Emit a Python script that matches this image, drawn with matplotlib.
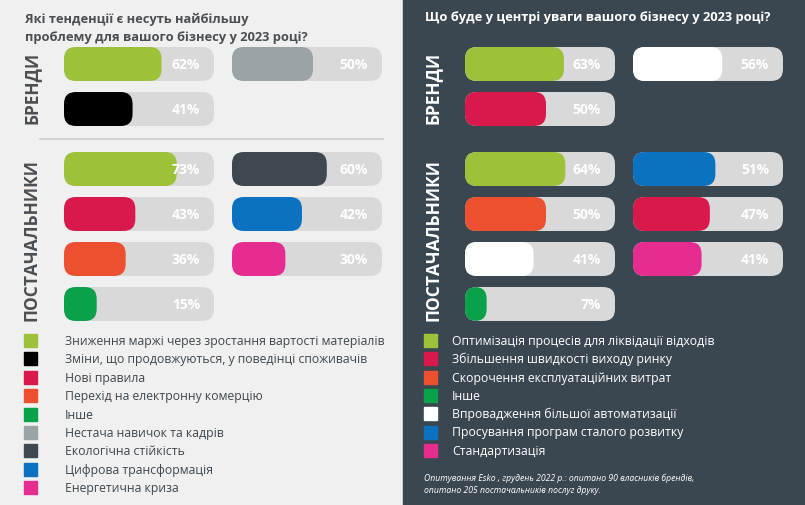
import matplotlib
matplotlib.use('Agg')
import matplotlib.pyplot as plt
from matplotlib.patches import FancyBboxPatch, Rectangle

# data ########################################################################
left_title = 'Які тенденції є несуть найбільшу\nпроблему для вашого бізнесу у 2023 році?'
right_title = 'Що буде у центрі уваги вашого бізнесу у 2023 році?'

left_brand_vals = [62, 50, 41]
left_brand_cols = ['#9dc23a', '#9aa3a6', '#000000']
left_supp_vals = [73, 60, 43, 42, 36, 30, 15]
left_supp_cols = ['#9dc23a', '#3d4850', '#d9184b', '#0a72c0', '#ec5030', '#e62d8f', '#0aa14b']

right_brand_vals = [63, 56, 50]
right_brand_cols = ['#9dc23a', '#ffffff', '#d9184b']
right_supp_vals = [64, 51, 50, 47, 41, 41, 7]
right_supp_cols = ['#9dc23a', '#0a72c0', '#ec5030', '#d9184b', '#ffffff', '#e62d8f', '#0aa14b']

left_legend = ['Зниження маржі через зростання вартості матеріалів',
               'Зміни, що продовжуються, у поведінці споживачів',
               'Нові правила', 'Перехід на електронну комерцію', 'Інше',
               'Нестача навичок та кадрів', 'Екологічна стійкість',
               'Цифрова трансформація', 'Енергетична криза']
left_legend_cols = ['#9dc23a', '#000000', '#d9184b', '#ec5030', '#0aa14b',
                    '#9aa3a6', '#3d4850', '#0a72c0', '#e62d8f']
right_legend = ['Оптимізація процесів для ліквідації відходів',
                'Збільшення швидкості виходу ринку',
                'Скорочення експлуатаційних витрат', 'Інше',
                'Впровадження більшої автоматизації',
                'Просування програм сталого розвитку', 'Стандартизація']
right_legend_cols = ['#9dc23a', '#d9184b', '#ec5030', '#0aa14b', '#ffffff',
                     '#0a72c0', '#e62d8f']
footnote = ('Опитування Esko , грудень 2022 р.: опитано 90 власників брендів,\n'
            'опитано 205 постачальників послуг друку.')

###############################################################################

plt.rcParams['font.family'] = ['Open Sans', 'DejaVu Sans']
fig = plt.figure(figsize=(8.05, 5.06), dpi=100)
ax = fig.add_axes([0, 0, 1, 1])
ax.set_xlim(0, 805)
ax.set_ylim(506, 0)
ax.axis('off')

ax.add_patch(Rectangle((0, 0), 403, 506, color='#f0f0f0', zorder=0))
ax.add_patch(Rectangle((403, 0), 402, 506, color='#3b4750', zorder=0))

TRACK = 150
H = 34


def bar(x, yc, val, col):
    ax.add_patch(FancyBboxPatch((x, yc - H / 2), TRACK, H,
                                boxstyle='round,pad=0,rounding_size=12',
                                fc='#d9d9d9', ec='none', zorder=1))
    # short fills still show their rounded ends
    w = 12 + (TRACK - 12) * val / 100
    ax.add_patch(FancyBboxPatch((x, yc - H / 2), w, H,
                                boxstyle='round,pad=0,rounding_size=12',
                                fc=col, ec='none', zorder=2))
    ax.text(x + TRACK - 14, yc, f'{val}%', color='white', fontsize=10,
            fontweight='bold', ha='right', va='center', zorder=3)


def panel(x0, brand_vals, brand_cols, supp_vals, supp_cols, txtcol):
    cols = [x0, x0 + 168]
    brand_rows = [65, 110]
    supp_rows = [170, 215, 260, 305]
    for i, (v, c) in enumerate(zip(brand_vals, brand_cols)):
        bar(cols[i % 2], brand_rows[i // 2], v, c)
    for i, (v, c) in enumerate(zip(supp_vals, supp_cols)):
        bar(cols[i % 2], supp_rows[i // 2], v, c)
    ax.text(x0 - 32, 88, 'БРЕНДИ', rotation=90, fontsize=12.5, fontweight='bold',
            color=txtcol, ha='center', va='center')
    ax.text(x0 - 32, 240, 'ПОСТАЧАЛЬНИКИ', rotation=90, fontsize=12.5,
            fontweight='bold', color=txtcol, ha='center', va='center')


panel(64, left_brand_vals, left_brand_cols, left_supp_vals, left_supp_cols, '#4a4f54')
panel(465, right_brand_vals, right_brand_cols, right_supp_vals, right_supp_cols, 'white')
ax.plot([40, 383], [140, 140], color='#cfcfcf', lw=1.2, zorder=1)

ax.text(25, 28, left_title, fontsize=9.3, fontweight='bold', color='#4a4f54',
        va='center', linespacing=1.5)
ax.text(425, 17, right_title, fontsize=9.3, fontweight='bold', color='white',
        va='center')

for i, (lab, c) in enumerate(zip(left_legend, left_legend_cols)):
    y = 341 + i * 18.4
    ax.add_patch(Rectangle((24, y - 6), 13, 13, color=c))
    ax.text(65, y + 0.5, lab, fontsize=8.8, color='#3d4850', va='center')

for i, (lab, c) in enumerate(zip(right_legend, right_legend_cols)):
    y = 341 + i * 18.3
    ax.add_patch(Rectangle((424, y - 6), 13, 13, color=c))
    ax.text(452, y + 0.5, lab, fontsize=8.8, color='white', va='center')

ax.text(424, 484, footnote, fontsize=6.2, style='italic', color='white',
        va='center', linespacing=1.4)

fig.savefig('out.png', dpi=100)
